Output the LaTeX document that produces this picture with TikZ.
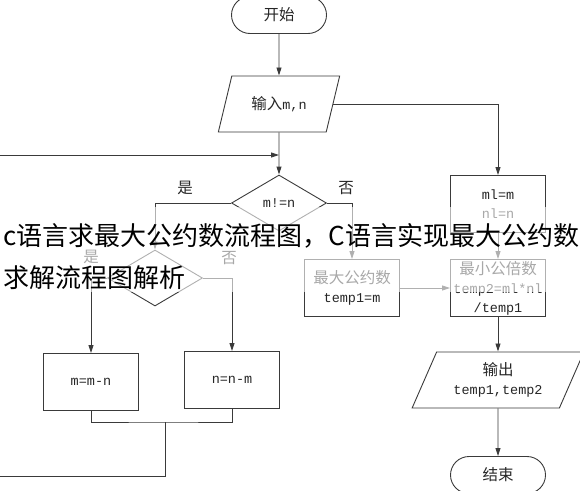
\documentclass[tikz,border=0pt]{standalone}
\usepackage{fontspec}
\setmonofont{Liberation Mono}
\newfontfamily\cjk{Noto Sans CJK SC}
\usetikzlibrary{shapes,arrows.meta}
\definecolor{linegray}{HTML}{3A3A3A}
\definecolor{textgray}{HTML}{262626}
\newcommand{\zh}[1]{{\cjk\fontsize{15.5}{19}\selectfont #1}}
\newcommand{\code}[1]{{\ttfamily #1}}
\tikzstyle{every node}=[text=textgray,font=\fontsize{13.5}{19}\selectfont]
\tikzstyle{terminal}=[rounded rectangle,draw=linegray,minimum width=95pt,minimum height=37pt,inner sep=0pt]
\tikzstyle{process}=[rectangle,draw=linegray,minimum width=95pt,minimum height=57pt,inner sep=0pt,align=center]
\tikzstyle{decision}=[diamond,draw=linegray,minimum width=95pt,minimum height=56pt,inner sep=0pt]
\tikzstyle{io}=[trapezium,trapezium left angle=63,trapezium right angle=117,trapezium stretches=true,draw=linegray,minimum height=56pt,inner sep=0pt,align=center]
\tikzstyle{arrow}=[draw=linegray,-{Triangle[length=8pt,width=5pt]}]
\tikzstyle{caption}=[text=black,font=\fontsize{26}{42}\selectfont\cjk,inner sep=0pt,anchor=base west]

\begin{document}
\begin{tikzpicture}[x=1pt,y=-1pt,line width=0.9pt]
    \useasboundingbox (0,0) rectangle (580,490);
    \clip (0,0) rectangle (580,490);

    % main column
    \node[terminal] (start) at (279,15) {\zh{开始}};
    \node[io, minimum width=122pt] (in) at (279,104) {\zh{输入}\code{m,n}};
    \node[decision] (cmp) at (279,203) {\code{m!=n}};
    \node[decision] (cmp2) at (155,278) {};
    \node[process] (sub1) at (91,382) {\code{m=m-n}};
    \node[process] (sub2) at (232,380) {\code{n=n-m}};
    \node[process] (gcd) at (352,288) {\zh{最大公约数}\\\code{temp1=m}};

    % right column
    \node[process] (init) at (498,204) {\code{ml=m}\\\code{nl=n}};
    \node[process] (lcm) at (498,288) {\zh{最小公倍数}\\\code{temp2=ml*nl}\\\code{/temp1}};
    \node[io, minimum width=172pt] (out) at (498,380) {\zh{输出}\\\code{temp1,temp2}};
    \node[terminal] (stop) at (498,475) {\zh{结束}};

    \foreach \pos/\name/\word in {{(185,188)/yes1/是}, {(346,188)/no1/否}, {(91,257)/yes2/是}, {(229,258)/no2/否}}
        \node (\name) at \pos {\zh{\word}};

    \coordinate (join) at (165,422);
    \coordinate (back) at (-20,476);
    \coordinate (merge) at (279,155);

    \draw[arrow] (start) -- (in);
    \draw[arrow] (in) -- (cmp);
    \draw[arrow] (in.east) -| (init.north);
    \draw[arrow] (cmp.west) -| (cmp2.north);
    \draw[arrow] (cmp.east) -| (gcd.north);
    \draw[arrow] (cmp2.west) -| (sub1.north);
    \draw[arrow] (cmp2.east) -| (sub2.north);
    \draw[draw=linegray] (sub1.south) |- (join) -| (sub2.south);
    \draw[arrow] (join) |- (back) |- (merge);
    \draw[arrow] (gcd) -- (lcm);
    \draw[arrow] (init) -- (lcm);
    \draw[arrow] (lcm) -- (out);
    \draw[arrow] (out) -- (stop);

    % caption band
    \fill[white, opacity=0.6] (0,207) rectangle (580,292);
    \node[caption] (cap1) at (3,245) {c语言求最大公约数流程图，C语言实现最大公约数};
    \node[caption] (cap2) at (3,287) {求解流程图解析};
\end{tikzpicture}
\end{document}
